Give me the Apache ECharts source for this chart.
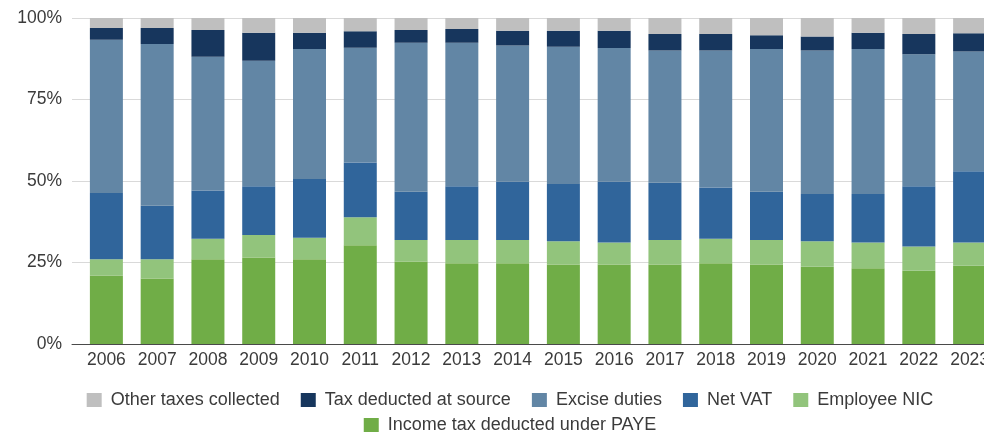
<!DOCTYPE html>
<html>
<head>
<meta charset="utf-8">
<script src="https://cdn.jsdelivr.net/npm/echarts@6/dist/echarts.min.js"></script>
<style>
  html, body { margin: 0; padding: 0; overflow: hidden; background: #fff; }
  #chart { width: 1020px; height: 433px; }
</style>
</head>
<body>
<div id="chart"></div>
<script>
const years = ['2006', '2007', '2008', '2009', '2010', '2011', '2012', '2013', '2014',
  '2015', '2016', '2017', '2018', '2019', '2020', '2021', '2022', '2023']

// shares of total, per cent, bottom of stack first
const paye = [21.0, 20.1, 26.0, 26.5, 26.0, 30.3, 25.3, 24.8, 24.8, 24.4, 24.4, 24.4, 24.8, 24.4, 23.7, 23.2, 22.5, 24.0]
const employeeNic = [5.0, 5.9, 6.3, 6.9, 6.6, 8.6, 6.6, 7.1, 7.1, 7.1, 6.7, 7.5, 7.5, 7.5, 7.8, 7.9, 7.4, 7.1]
const netVat = [20.3, 16.4, 14.8, 15.0, 18.0, 16.8, 14.8, 16.5, 17.9, 17.6, 18.7, 17.6, 15.7, 14.8, 14.5, 14.9, 18.5, 21.9]
const exciseDuties = [47.0, 49.6, 41.0, 38.5, 39.9, 35.2, 45.7, 44.0, 41.8, 42.1, 41.0, 40.5, 42.0, 43.8, 44.0, 44.5, 40.5, 36.7]
const taxAtSource = [3.6, 4.9, 8.2, 8.6, 5.0, 5.0, 3.9, 4.2, 4.5, 4.9, 5.3, 5.1, 5.1, 4.2, 4.3, 5.0, 6.2, 5.6]
const otherTaxes = [3.1, 3.1, 3.7, 4.5, 4.5, 4.1, 3.7, 3.4, 3.9, 3.9, 3.9, 4.9, 4.9, 5.3, 5.7, 4.5, 4.9, 4.7]

const yTicks = [0, 25, 50, 75, 100]

const font = 'Liberation Sans, Arial, sans-serif'
const textColor = '#3b3b3b'

const seriesDefs = [
  { name: 'Income tax deducted under PAYE', data: paye, color: '#70ad47' },
  { name: 'Employee NIC', data: employeeNic, color: '#92c47c' },
  { name: 'Net VAT', data: netVat, color: '#30659b' },
  { name: 'Excise duties', data: exciseDuties, color: '#6286a5' },
  { name: 'Tax deducted at source', data: taxAtSource, color: '#17365d' },
  { name: 'Other taxes collected', data: otherTaxes, color: '#bfbfbf' }
]

const legendText = { fontFamily: font, fontSize: 18, color: textColor, padding: [0, 0, 0, 4] }

const option = {
  animation: false,
  grid: [
    { left: 81, right: 25, top: 18, bottom: 89 },
    { left: 72, right: 0, top: 18, bottom: 89 }
  ],
  legend: [
    {
      data: ['Other taxes collected', 'Tax deducted at source', 'Excise duties', 'Net VAT', 'Employee NIC'],
      left: 'center',
      top: 391,
      padding: 0,
      itemWidth: 15,
      itemHeight: 14,
      itemGap: 21,
      icon: 'rect',
      textStyle: legendText
    },
    {
      data: ['Income tax deducted under PAYE'],
      left: 'center',
      top: 416,
      padding: 0,
      itemWidth: 15,
      itemHeight: 14,
      icon: 'rect',
      textStyle: legendText
    }
  ],
  xAxis: [
    {
      type: 'category',
      gridIndex: 0,
      data: years,
      axisLine: { show: false },
      axisTick: { show: false },
      axisLabel: { margin: 7, fontFamily: font, fontSize: 17.5, color: textColor, interval: 0 }
    },
    {
      type: 'value',
      gridIndex: 1,
      min: 0,
      max: 1,
      axisLine: { show: true, lineStyle: { color: '#4a4a4a', width: 1 } },
      axisTick: { show: false },
      axisLabel: { show: false },
      splitLine: { show: false }
    }
  ],
  yAxis: [
    {
      type: 'value',
      gridIndex: 0,
      min: 0,
      max: 100,
      show: false
    },
    {
      type: 'value',
      gridIndex: 1,
      min: yTicks[0],
      max: yTicks[yTicks.length - 1],
      interval: 25,
      axisLine: { show: false },
      axisTick: { show: false },
      axisLabel: { margin: 10, fontFamily: font, fontSize: 17.5, color: textColor, formatter: '{value}%' },
      splitLine: { lineStyle: { color: '#d9d9d9', width: 1 } }
    }
  ],
  series: seriesDefs.map(s => ({
    name: s.name,
    type: 'bar',
    stack: 'total',
    xAxisIndex: 0,
    yAxisIndex: 0,
    barWidth: 33,
    data: s.data,
    itemStyle: { color: s.color }
  }))
}

const chart = echarts.init(document.getElementById('chart'), null, { renderer: 'canvas' })
chart.setOption(option)
</script>
</body>
</html>
